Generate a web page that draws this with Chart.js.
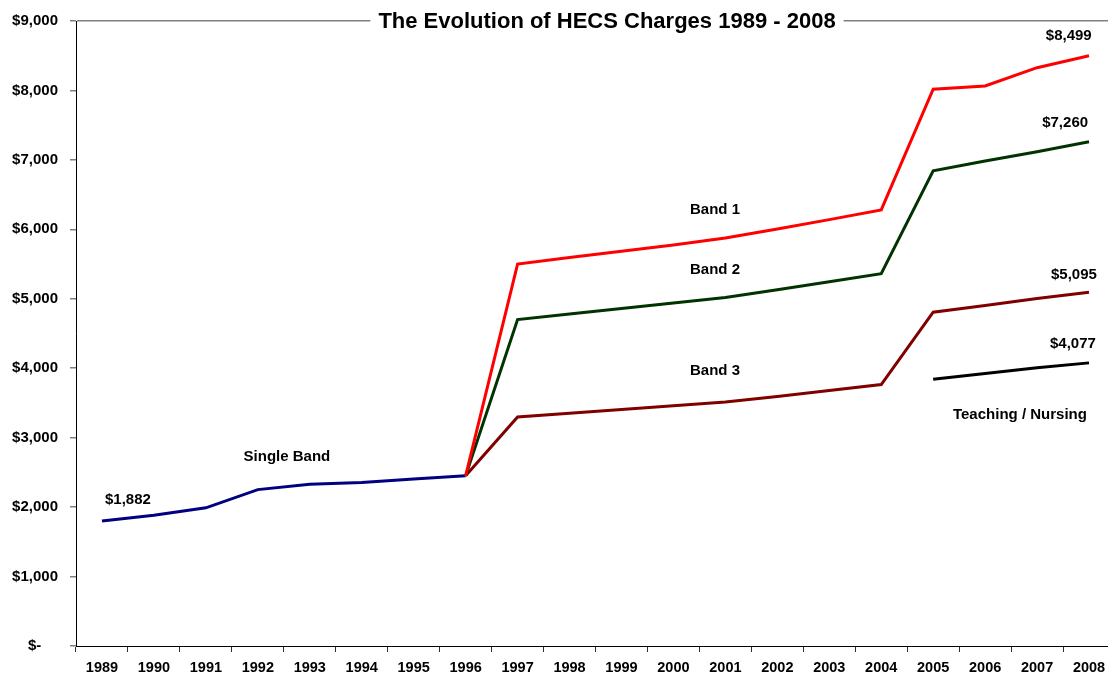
<!DOCTYPE html>
<html>
<head>
<meta charset="utf-8">
<script src="https://cdn.jsdelivr.net/npm/chart.js@4/dist/chart.umd.min.js"></script>
<style>
  html, body { margin: 0; padding: 0; background: #fff; overflow: hidden; }
  #wrap { width: 1115px; height: 680px; }
</style>
</head>
<body>
<div id="wrap"><canvas id="c" width="1115" height="680"></canvas></div>
<script>
// ---- data ----
const years = ['1989','1990','1991','1992','1993','1994','1995','1996','1997','1998','1999','2000','2001','2002','2003','2004','2005','2006','2007','2008'];
const singleBand = [1800, 1882, 1990, 2252, 2330, 2354, 2404, 2450, null, null, null, null, null, null, null, null, null, null, null, null];
const band1 = [null, null, null, null, null, null, null, 2450, 5500, 5595, 5685, 5775, 5875, 6005, 6140, 6280, 8018, 8065, 8328, 8499];
const band2 = [null, null, null, null, null, null, null, 2450, 4700, 4780, 4860, 4940, 5020, 5130, 5245, 5362, 6843, 6985, 7118, 7260];
const band3 = [null, null, null, null, null, null, null, 2450, 3298, 3352, 3405, 3458, 3512, 3592, 3678, 3764, 4806, 4902, 5003, 5095];
const teachingNursing = [null, null, null, null, null, null, null, null, null, null, null, null, null, null, null, null, 3840, 3925, 4008, 4077];
const yTickLabels = ['$-    ', '$1,000', '$2,000', '$3,000', '$4,000', '$5,000', '$6,000', '$7,000', '$8,000', '$9,000'];
const chartTitle = 'The Evolution of HECS Charges 1989 - 2008';

// text annotations placed in data space (category index, value)
const annotations = [
  { text: 'Single Band', x: 3.56, y: 2720 },
  { text: '$1,882', x: 0.50, y: 2100 },
  { text: 'Band 1', x: 11.80, y: 6282 },
  { text: 'Band 2', x: 11.80, y: 5415 },
  { text: 'Band 3', x: 11.80, y: 3958 },
  { text: '$8,499', x: 18.61, y: 8784 },
  { text: '$7,260', x: 18.54, y: 7538 },
  { text: '$5,095', x: 18.71, y: 5348 },
  { text: '$4,077', x: 18.69, y: 4352 },
  { text: 'Teaching / Nursing', x: 17.67, y: 3335 }
];

const FONT = 'Arial, "Liberation Sans", Helvetica, sans-serif';

const textPlugin = {
  id: 'textPlugin',
  afterDatasetsDraw(chart) {
    const ctx = chart.ctx;
    const xs = chart.scales.x, ys = chart.scales.y;
    ctx.save();
    ctx.fillStyle = '#000';
    ctx.font = 'bold 15px ' + FONT;
    ctx.textAlign = 'center';
    ctx.textBaseline = 'middle';
    annotations.forEach(a => {
      const px = xs.getPixelForValue(a.x);
      const py = ys.getPixelForValue(a.y);
      ctx.fillText(a.text, px, py);
    });
    // title over the top border line
    ctx.font = 'bold 22px ' + FONT;
    const tx = 607, ty = ys.getPixelForValue(9000) + 1;
    const w = ctx.measureText(chartTitle).width;
    ctx.fillStyle = '#fff';
    ctx.fillRect(tx - w / 2 - 8, ty - 12, w + 16, 24);
    ctx.fillStyle = '#000';
    ctx.fillText(chartTitle, tx, ty);
    ctx.restore();
  }
};

const lineDs = (label, data, color, order) => ({
  label, data, borderColor: color, backgroundColor: color,
  borderWidth: 3, pointRadius: 0, tension: 0, fill: false, spanGaps: false, order
});

new Chart(document.getElementById('c'), {
  type: 'line',
  data: {
    labels: years,
    datasets: [
      lineDs('Single Band', singleBand, '#000080', 3),
      lineDs('Band 1', band1, '#FF0000', 0),
      lineDs('Band 2', band2, '#003300', 1),
      lineDs('Band 3', band3, '#800000', 2),
      lineDs('Teaching / Nursing', teachingNursing, '#000000', 4)
    ]
  },
  options: {
    responsive: false,
    animation: false,
    layout: { padding: { top: 20, right: 0, left: 0, bottom: 0 } },
    plugins: { legend: { display: false }, tooltip: { enabled: false }, title: { display: false } },
    scales: {
      x: {
        type: 'category',
        offset: true,
        grid: { offset: true, drawOnChartArea: false, drawTicks: true, tickLength: 6, tickColor: '#303030' },
        border: { display: true, color: '#000', width: 1 },
        ticks: { color: '#000', font: { family: FONT, size: 14.5, weight: 'bold' }, padding: 7, maxRotation: 0, autoSkip: false },
        afterFit(s) { s.height = 34; }
      },
      y: {
        min: 0, max: 9000,
        ticks: {
          stepSize: 1000, color: '#000', padding: 12,
          font: { family: FONT, size: 15, weight: 'bold' },
          callback: (v, i) => yTickLabels[i]
        },
        grid: {
          drawOnChartArea: true, drawTicks: true, tickLength: 6, tickColor: '#808080',
          color: c => (c.tick && c.tick.value === 9000) ? '#808080' : 'rgba(0,0,0,0)',
          lineWidth: 1.5
        },
        border: { display: true, color: '#000', width: 1 },
        afterFit(s) { s.width = 76; }
      }
    }
  },
  plugins: [textPlugin]
});
</script>
</body>
</html>
